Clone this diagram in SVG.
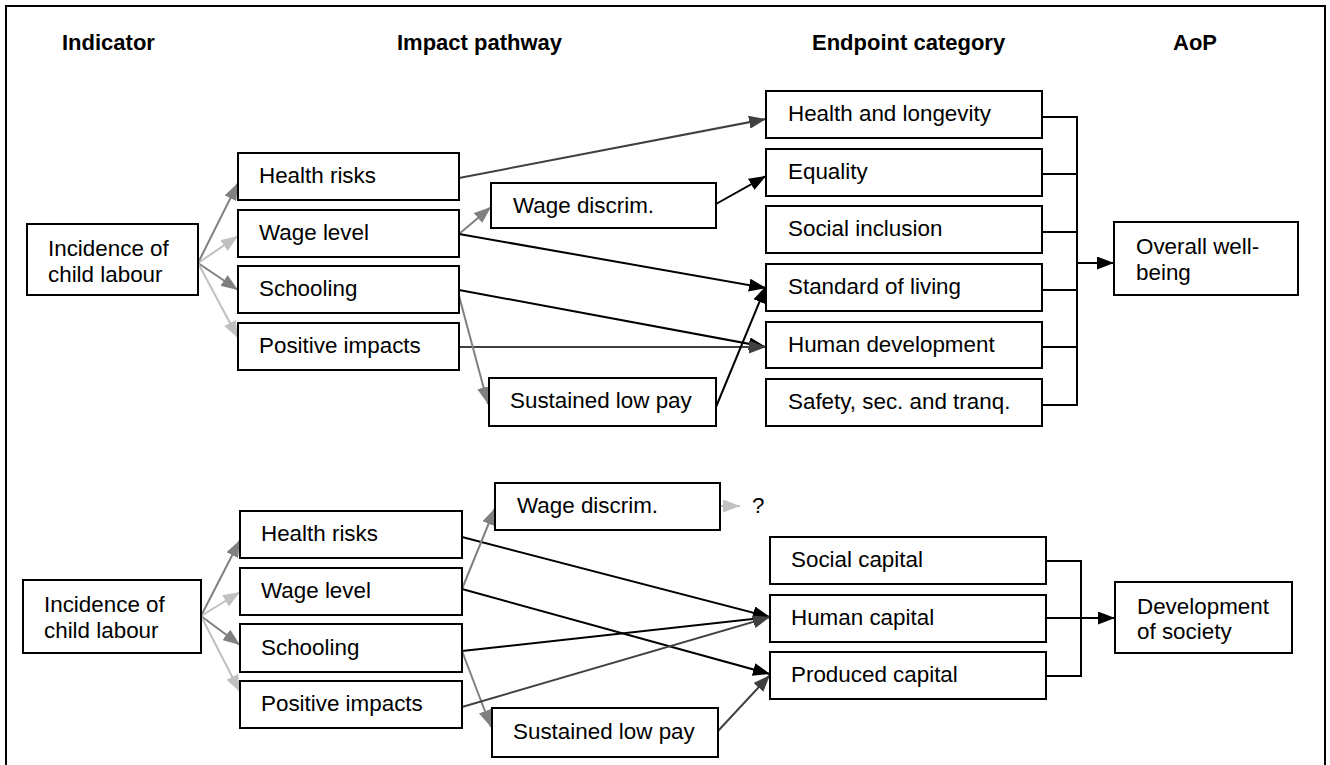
<svg xmlns="http://www.w3.org/2000/svg" width="1330" height="765" viewBox="0 0 1330 765">
<style>
  .box rect { fill: #fff; stroke: #000; stroke-width: 2; }
  text { font-family: "Liberation Sans", Arial, sans-serif; font-size: 22.4px; fill: #000; }
  .hdr { font-weight: bold; font-size: 22px; }
  .ln { fill: none; stroke-width: 2; }
  .k { stroke: #000; }
  .d { stroke: #404040; }
  .g { stroke: #808080; }
  .l { stroke: #c0c0c0; }
</style>
<defs>
  <marker id="ak" markerUnits="userSpaceOnUse" markerWidth="17" markerHeight="13" refX="17" refY="6.5" orient="auto"><path d="M0,0 L17,6.5 L0,13 z" fill="#000"/></marker>
  <marker id="ad" markerUnits="userSpaceOnUse" markerWidth="17" markerHeight="13" refX="17" refY="6.5" orient="auto"><path d="M0,0 L17,6.5 L0,13 z" fill="#404040"/></marker>
  <marker id="ag" markerUnits="userSpaceOnUse" markerWidth="17" markerHeight="13" refX="17" refY="6.5" orient="auto"><path d="M0,0 L17,6.5 L0,13 z" fill="#808080"/></marker>
  <marker id="al" markerUnits="userSpaceOnUse" markerWidth="17" markerHeight="13" refX="17" refY="6.5" orient="auto"><path d="M0,0 L17,6.5 L0,13 z" fill="#c0c0c0"/></marker>
</defs>
<rect x="0" y="0" width="1330" height="765" fill="#fff"/>
<rect x="6" y="6" width="1319" height="770" fill="none" stroke="#000" stroke-width="2"/>

<g id="headers">
  <text class="hdr" x="62" y="50">Indicator</text>
  <text class="hdr" x="397" y="50">Impact pathway</text>
  <text class="hdr" x="812" y="50">Endpoint category</text>
  <text class="hdr" x="1173" y="50">AoP</text>
</g>

<g id="connectors">
  <!-- top fan -->
  <line class="ln g" x1="198" y1="263" x2="238" y2="183" marker-end="url(#ag)"/>
  <line class="ln l" x1="198" y1="263" x2="238" y2="236" marker-end="url(#al)"/>
  <line class="ln g" x1="198" y1="263" x2="238" y2="290" marker-end="url(#ag)"/>
  <line class="ln l" x1="198" y1="263" x2="238" y2="338" marker-end="url(#al)"/>
  <!-- top pathways -->
  <line class="ln d" x1="459" y1="178" x2="766" y2="119" marker-end="url(#ad)"/>
  <line class="ln g" x1="459" y1="234" x2="491" y2="207" marker-end="url(#ag)"/>
  <line class="ln k" x1="459" y1="234" x2="766" y2="288" marker-end="url(#ak)"/>
  <line class="ln k" x1="716" y1="204" x2="766" y2="176" marker-end="url(#ak)"/>
  <line class="ln k" x1="459" y1="290" x2="766" y2="347" marker-end="url(#ak)"/>
  <line class="ln d" x1="459" y1="347" x2="766" y2="347" marker-end="url(#ad)"/>
  <line class="ln g" x1="458" y1="292" x2="488" y2="404" marker-end="url(#ag)"/>
  <line class="ln k" x1="716" y1="407" x2="766" y2="286" marker-end="url(#ak)"/>
  <!-- top bracket -->
  <path class="ln k" d="M1042,117 H1077 M1042,174 H1077 M1042,232 H1077 M1042,290 H1077 M1042,347 H1077 M1042,405 H1077 M1077,116 V406"/>
  <line class="ln k" x1="1077" y1="263" x2="1114" y2="263" marker-end="url(#ak)"/>

  <!-- bottom fan -->
  <line class="ln g" x1="201" y1="616" x2="240" y2="540" marker-end="url(#ag)"/>
  <line class="ln l" x1="201" y1="616" x2="240" y2="592" marker-end="url(#al)"/>
  <line class="ln g" x1="201" y1="616" x2="240" y2="645" marker-end="url(#ag)"/>
  <line class="ln l" x1="201" y1="616" x2="240" y2="692" marker-end="url(#al)"/>
  <!-- bottom pathways -->
  <line class="ln k" x1="462" y1="537" x2="770" y2="617" marker-end="url(#ak)"/>
  <line class="ln g" x1="462" y1="589" x2="495" y2="508" marker-end="url(#ag)"/>
  <line class="ln k" x1="462" y1="589" x2="770" y2="674" marker-end="url(#ak)"/>
  <line class="ln k" x1="462" y1="651" x2="770" y2="617" marker-end="url(#ak)"/>
  <line class="ln g" x1="462" y1="651" x2="491" y2="727" marker-end="url(#ag)"/>
  <line class="ln d" x1="462" y1="707" x2="770" y2="617" marker-end="url(#ad)"/>
  <line class="ln d" x1="718" y1="731" x2="770" y2="675" marker-end="url(#ad)"/>
  <line class="ln l" x1="720" y1="506" x2="740" y2="506" marker-end="url(#al)"/>
  <!-- bottom bracket -->
  <path class="ln k" d="M1046,561 H1081 M1046,618 H1081 M1046,676 H1081 M1081,560 V677"/>
  <line class="ln k" x1="1081" y1="618" x2="1115" y2="618" marker-end="url(#ak)"/>
</g>
<text x="752" y="513">?</text>

<!-- top nodes -->
<g id="t-incidence" class="box"><rect x="27" y="224" width="171" height="71"/><text x="48" y="256">Incidence of</text><text x="48" y="282">child labour</text></g>
<g id="t-health-risks" class="box"><rect x="238" y="153" width="221" height="47"/><text x="259" y="183">Health risks</text></g>
<g id="t-wage-level" class="box"><rect x="238" y="210" width="221" height="47"/><text x="259" y="240">Wage level</text></g>
<g id="t-schooling" class="box"><rect x="238" y="266" width="221" height="47"/><text x="259" y="296">Schooling</text></g>
<g id="t-positive" class="box"><rect x="238" y="323" width="221" height="47"/><text x="259" y="353">Positive impacts</text></g>
<g id="t-wage-discrim" class="box"><rect x="491" y="183" width="225" height="45"/><text x="513" y="213">Wage discrim.</text></g>
<g id="t-sustained" class="box"><rect x="489" y="378" width="227" height="48"/><text x="510" y="408">Sustained low pay</text></g>
<g id="t-health-longevity" class="box"><rect x="766" y="91" width="276" height="47"/><text x="788" y="121">Health and longevity</text></g>
<g id="t-equality" class="box"><rect x="766" y="149" width="276" height="47"/><text x="788" y="179">Equality</text></g>
<g id="t-social-inclusion" class="box"><rect x="766" y="206" width="276" height="47"/><text x="788" y="236">Social inclusion</text></g>
<g id="t-standard" class="box"><rect x="766" y="264" width="276" height="47"/><text x="788" y="294">Standard of living</text></g>
<g id="t-human-dev" class="box"><rect x="766" y="322" width="276" height="46"/><text x="788" y="352">Human development</text></g>
<g id="t-safety" class="box"><rect x="766" y="379" width="276" height="47"/><text x="788" y="409">Safety, sec. and tranq.</text></g>
<g id="t-overall" class="box"><rect x="1114" y="222" width="184" height="73"/><text x="1136" y="254">Overall well-</text><text x="1136" y="280">being</text></g>

<!-- bottom nodes -->
<g id="b-incidence" class="box"><rect x="23" y="580" width="178" height="73"/><text x="44" y="612">Incidence of</text><text x="44" y="638">child labour</text></g>
<g id="b-health-risks" class="box"><rect x="240" y="511" width="222" height="47"/><text x="261" y="541">Health risks</text></g>
<g id="b-wage-level" class="box"><rect x="240" y="568" width="222" height="47"/><text x="261" y="598">Wage level</text></g>
<g id="b-schooling" class="box"><rect x="240" y="624" width="222" height="48"/><text x="261" y="655">Schooling</text></g>
<g id="b-positive" class="box"><rect x="240" y="681" width="222" height="47"/><text x="261" y="711">Positive impacts</text></g>
<g id="b-wage-discrim" class="box"><rect x="495" y="483" width="225" height="47"/><text x="517" y="513">Wage discrim.</text></g>
<g id="b-sustained" class="box"><rect x="492" y="708" width="226" height="49"/><text x="513" y="739">Sustained low pay</text></g>
<g id="b-social-capital" class="box"><rect x="770" y="537" width="276" height="47"/><text x="791" y="567">Social capital</text></g>
<g id="b-human-capital" class="box"><rect x="770" y="595" width="276" height="47"/><text x="791" y="625">Human capital</text></g>
<g id="b-produced-capital" class="box"><rect x="770" y="652" width="276" height="47"/><text x="791" y="682">Produced capital</text></g>
<g id="b-development" class="box"><rect x="1115" y="582" width="177" height="71"/><text x="1137" y="614">Development</text><text x="1137" y="639">of society</text></g>
</svg>
